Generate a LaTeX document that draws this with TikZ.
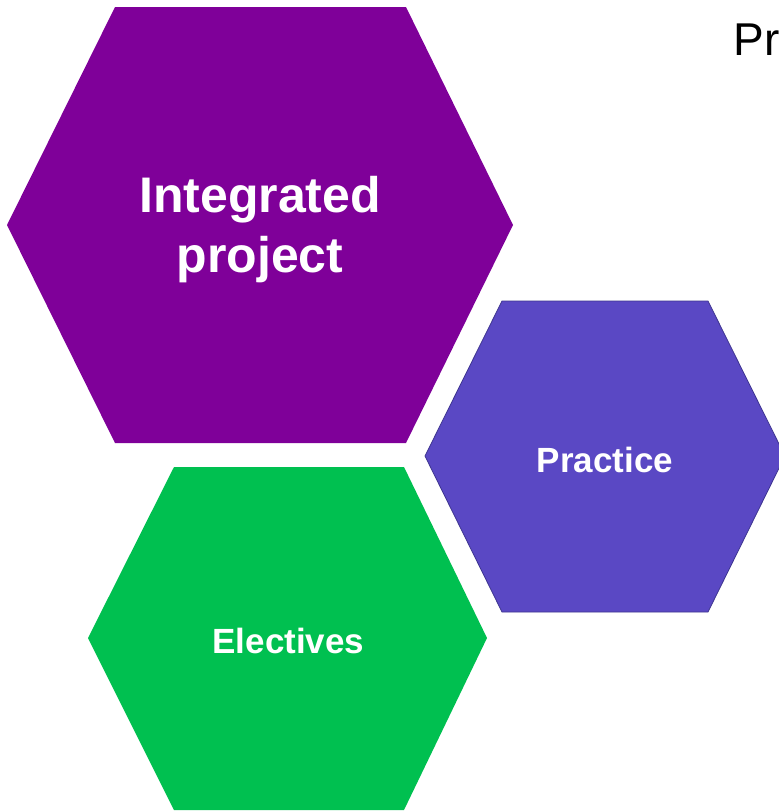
\documentclass[tikz,border=0pt]{standalone}
\usepackage{fontspec}
\setmainfont{Liberation Sans}
\definecolor{purp}{HTML}{7F0099}
\definecolor{prac}{HTML}{5A48C4}
\definecolor{pracb}{HTML}{3E3590}
\definecolor{grn}{HTML}{00C050}
\begin{document}
\begin{tikzpicture}[x=1pt,y=-1pt,
  lbl/.style={text=white,font=\bfseries,align=center,inner sep=0pt}]
\useasboundingbox (0,0) rectangle (779,812);
\clip (0,0) rectangle (779,812);
\fill[white] (0,0) rectangle (779,812);
% Integrated project hexagon
\fill[purp] (115,7) -- (406,7) -- (513,225) -- (406,443) -- (115,443) -- (7,225) -- cycle;
% Practice hexagon
\filldraw[fill=prac,draw=pracb,line width=0.8pt] (502,301) -- (708,301) -- (785,456) -- (708,612) -- (502,612) -- (425,456) -- cycle;
% Electives hexagon
\fill[grn] (174,467) -- (404,467) -- (487,638) -- (404,810) -- (174,810) -- (88,638) -- cycle;
% labels
\node[lbl,font=\bfseries\fontsize{50}{60}\selectfont] (ip) at (260,230) {Integrated\\project};
\node[lbl,font=\bfseries\fontsize{35}{42}\selectfont,anchor=base] (pr) at (605,472) {Practice};
\node[lbl,font=\bfseries\fontsize{35}{42}\selectfont,anchor=base] (el) at (288.5,653) {Electives};
\node[inner sep=0pt,anchor=base west,font=\fontsize{46}{55}\selectfont] (top) at (733.5,55) {Pr};
\end{tikzpicture}
\end{document}
